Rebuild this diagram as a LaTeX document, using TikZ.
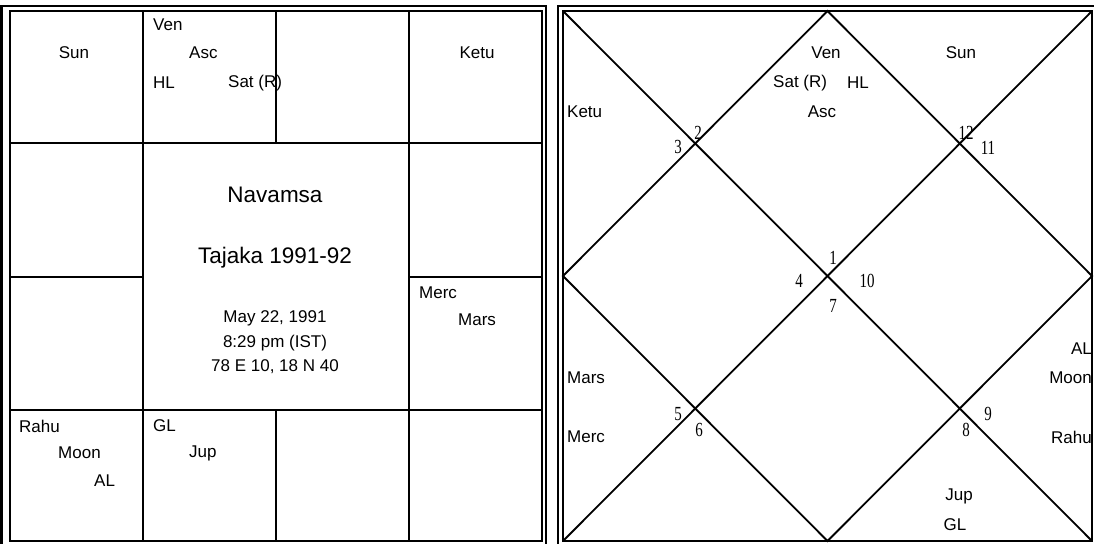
\documentclass[tikz,border=0pt]{standalone}
\usepackage{fontspec}
\setmainfont{Liberation Sans}
\newfontfamily\numfont[FakeStretch=0.75]{Liberation Serif}
\usepackage{tikz}
\usetikzlibrary{positioning}

\tikzset{
    planet/.style={inner sep=0pt, font=\fontsize{17}{17}\selectfont},
    title/.style={inner sep=0pt, font=\fontsize{22.5}{22.5}\selectfont},
    info/.style={inner sep=0pt, font=\fontsize{17}{17}\selectfont},
    house/.style={inner sep=0pt, font=\numfont\fontsize{20}{20}\selectfont},
    frame out/.style={line width=2.6pt},
    frame in/.style={line width=2pt},
    cell/.style={line width=2.2pt},
    diag/.style={line width=1.8pt}
}

\begin{document}
\begin{tikzpicture}[x=1pt, y=-1pt]
    \useasboundingbox (0,0) rectangle (1094,543);
    \clip (0,0) rectangle (1094,543);

    % Left chart frame
    \draw [frame out] (1.5,6) rectangle (546,550);
    \draw [frame in] (10,11) rectangle (542,541);

    % Left chart cells
    \draw [cell] (10,143) -- (542,143);
    \draw [cell] (10,410) -- (542,410);
    \draw [cell] (143,11) -- (143,541);
    \draw [cell] (409,11) -- (409,541);
    \draw [cell] (276,11) -- (276,143);
    \draw [cell] (276,410) -- (276,541);
    \draw [cell] (10,277) -- (143,277);
    \draw [cell] (409,277) -- (542,277);

    % Right chart frame
    \draw [frame out] (558,6) rectangle (1100,550);
    \draw [frame in] (563,11) rectangle (1092,541);

    % Right chart diagonals and diamond
    \draw [diag] (563,11) -- (1092,541);
    \draw [diag] (1092,11) -- (563,541);
    \draw [diag] (827.5,11) -- (1092,276) -- (827.5,541) -- (563,276) -- cycle;

    % Left chart planets
    \node [planet] (lsun) at (74,53) {Sun};
    \node [planet, anchor=west] (lven) at (153,25) {Ven};
    \node [planet, anchor=west] (lasc) at (189,53) {Asc};
    \node [planet, anchor=west] (lhl) at (153,83) {HL};
    \node [planet, anchor=west] (lsat) at (228,83) {Sat (R)};
    \node [planet] (lketu) at (477,53) {Ketu};
    \node [planet, anchor=west] (lmerc) at (419,293) {Merc};
    \node [planet, anchor=west] (lmars) at (458,320) {Mars};
    \node [planet, anchor=west] (lrahu) at (19,426) {Rahu};
    \node [planet, anchor=west] (lmoon) at (58,453) {Moon};
    \node [planet, anchor=west] (lal) at (94,481) {AL};
    \node [planet, anchor=west] (lgl) at (153,426) {GL};
    \node [planet, anchor=west] (ljup) at (189,453) {Jup};

    % Left chart centre
    \node [title] (lname) at (275,195) {Navamsa};
    \node [title] (lyear) at (275,258) {Tajaka 1991-92};
    \node [info] (ldate) at (275,318) {May 22, 1991};
    \node [info] (ltime) at (275,343) {8:29 pm (IST)};
    \node [info] (lplace) at (275,367) {78 E 10, 18 N 40};

    % Right chart planets
    \node [planet] (rven) at (826,53) {Ven};
    \node [planet, anchor=west] (rsat) at (773,83) {Sat (R)};
    \node [planet, anchor=west] (rhl) at (847,83) {HL};
    \node [planet] (rasc) at (822,112) {Asc};
    \node [planet] (rsun) at (961,53) {Sun};
    \node [planet, anchor=west] (rketu) at (567,112) {Ketu};
    \node [planet, anchor=west] (rmars) at (567,378) {Mars};
    \node [planet, anchor=west] (rmerc) at (567,437) {Merc};
    \node [planet, anchor=east] (ral) at (1092,349) {AL};
    \node [planet, anchor=east] (rmoon) at (1092,378) {Moon};
    \node [planet, anchor=east] (rrahu) at (1092,437) {Rahu};
    \node [planet] (rjup) at (959,496) {Jup};
    \node [planet] (rgl) at (955,525) {GL};

    % House numbers
    \foreach \n/\x/\y in {1/833/258, 2/698/133, 3/678/147, 4/799/281,
                          5/678/414, 6/699/430, 7/833/306, 8/966/430,
                          9/988/414, 10/867/281, 11/988/148, 12/966/133}
        \node [house] (h\n) at (\x,\y) {\n};
\end{tikzpicture}
\end{document}
